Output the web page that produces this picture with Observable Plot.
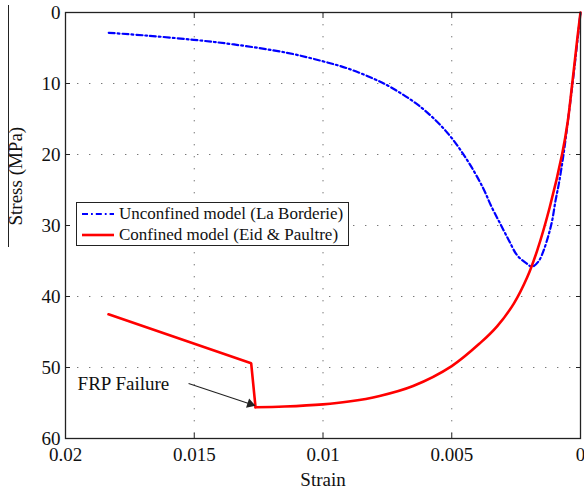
<!DOCTYPE html>
<html>
<head>
<meta charset="utf-8">
<script src="https://cdn.jsdelivr.net/npm/d3@7"></script>
<script src="https://cdn.jsdelivr.net/npm/@observablehq/plot@0.6"></script>
<style>
  html, body { margin: 0; padding: 0; background: #fff; }
  #wrap { position: relative; width: 584px; height: 489px; overflow: hidden; font-family: "Liberation Serif", "DejaVu Serif", serif; }
  #chart svg, #chart svg text { font-family: "Liberation Serif", "DejaVu Serif", serif !important; }
  #edge { position: absolute; left: 8px; top: 5px; width: 0; height: 242px; border-left: 1.2px solid #222; }
  #legend { position: absolute; left: 76px; top: 202px; width: 273px; height: 44px; border: 1.2px solid #222; background: #fff; box-sizing: border-box; font-size: 17px; color: #111; }
  #legend .row { position: absolute; left: 4px; height: 20px; display: flex; align-items: center; white-space: nowrap; }
  #legend svg { margin-right: 4px; }
</style>
</head>
<body>
<div id="wrap">
  <div id="edge"></div>
  <div id="chart"></div>
  <div id="legend"></div>
</div>
<script>
// Unconfined concrete (La Borderie model): strain, compressive stress (MPa)
const unconfinedStrain = [0.01832, 0.01689, 0.01502, 0.01346, 0.01139, 0.01003, 0.00900, 0.00803, 0.00738, 0.00621, 0.00518, 0.00440, 0.00380, 0.00345, 0.00311, 0.00278, 0.00246, 0.00207, 0.00188, 0.00162, 0.00143, 0.00123, 0.00110, 0.00097, 0.00084, 0.00066, 0.00048, 0.00031, 0.00015, 0];
const unconfinedStress = [2.86, 3.24, 3.85, 4.5, 5.68, 6.85, 7.93, 9.34, 10.5, 13.3, 16.9, 20.8, 24.6, 27.4, 29.8, 32.1, 34.2, 35.4, 35.8, 35.0, 33.5, 31.2, 29.3, 26.5, 24.1, 20.0, 15.0, 10.0, 5.0, 0];

// FRP-confined concrete (Eid & Paultre model); the first three points are the
// post-failure branch, the rest the confined curve
const confinedStrain = [0.01833, 0.01279, 0.01262, 0.0115, 0.0100, 0.0090, 0.0078, 0.0065, 0.0050, 0.00388, 0.00324, 0.00259, 0.00207, 0.00168, 0.00120, 0.00071, 0.00050, 0.00032, 0.00013, 0];
const confinedStress = [42.5, 49.4, 55.6, 55.5, 55.2, 54.8, 54.0, 52.6, 49.8, 46.5, 44.2, 41.0, 37.3, 33.5, 27.5, 19.9, 15.5, 10.0, 3.9, 0];
const failureIndex = 2;

const xTicks = [0.02, 0.015, 0.01, 0.005, 0];
const xTickLabels = ["0.02", "0.015", "0.01", "0.005", "0"];
const yTicks = [0, 10, 20, 30, 40, 50, 60];

// FRP failure annotation: label anchor and arrow end points
const noteText = "FRP Failure";
const noteAt = [0.01953, 52.25];
const arrowFrom = [0.01522, 52.25];
const arrowTo = [0.01266, 55.35];

const seriesNames = ["Unconfined model (La Borderie)", "Confined model (Eid & Paultre)"];
const seriesColors = ["#0000ff", "#ff0000"];

const unconfined = unconfinedStrain.map((s, i) => ({strain: s, stress: unconfinedStress[i]}));
const confined = confinedStrain.map((s, i) => ({strain: s, stress: confinedStress[i]}));
const confinedLinear = confined.slice(0, failureIndex + 1);
const confinedCurve = confined.slice(failureIndex);

// arrow head sits just short of the tip
const t = 0.935;
const headAt = {x: arrowFrom[0] + (arrowTo[0] - arrowFrom[0]) * t, y: arrowFrom[1] + (arrowTo[1] - arrowFrom[1]) * t};

const fontFamily = '"Liberation Serif", "DejaVu Serif", serif';
const grid = {stroke: "#777", strokeOpacity: 1, strokeWidth: 1, strokeDasharray: "1.4,10.6"};
const noText = () => "";
const fs = 19;

const chart = Plot.plot({
  width: 584,
  height: 489,
  marginLeft: 65,
  marginRight: 4,
  marginTop: 12,
  marginBottom: 51,
  style: {fontFamily, background: "transparent", overflow: "visible"},
  x: {domain: [0.02, 0], ticks: xTicks},
  y: {domain: [0, 60], reverse: true, ticks: yTicks},
  marks: [
    Plot.gridX(xTicks, {...grid}),
    Plot.gridY(yTicks, {...grid}),
    // tick labels
    Plot.axisX(xTicks, {tickSize: 0, tickPadding: 9, fontSize: fs, fontFamily, fill: "#111", label: null,
      tickFormat: (d) => xTickLabels[xTicks.indexOf(d)]}),
    Plot.axisY(yTicks, {tickSize: 0, tickPadding: 5, fontSize: fs, fontFamily, fill: "#111", label: null}),
    // inward ticks on all four sides
    Plot.axisX(xTicks, {anchor: "bottom", tickSize: -5, stroke: "#222", tickFormat: noText, label: null}),
    Plot.axisX(xTicks, {anchor: "top", tickSize: -5, stroke: "#222", tickFormat: noText, label: null}),
    Plot.axisY(yTicks, {anchor: "left", tickSize: -5, stroke: "#222", tickFormat: noText, label: null}),
    Plot.axisY(yTicks, {anchor: "right", tickSize: -5, stroke: "#222", tickFormat: noText, label: null}),
    Plot.line(unconfined, {x: "strain", y: "stress", curve: "catmull-rom", stroke: seriesColors[0], strokeWidth: 2.2, strokeDasharray: "6,3,1.8,3"}),
    Plot.line(confinedLinear, {x: "strain", y: "stress", stroke: seriesColors[1], strokeWidth: 2.6, strokeLinejoin: "miter"}),
    Plot.line(confinedCurve, {x: "strain", y: "stress", curve: "catmull-rom", stroke: seriesColors[1], strokeWidth: 2.6}),
    Plot.link([{x1: arrowFrom[0], y1: arrowFrom[1], x2: headAt.x, y2: headAt.y}],
      {x1: "x1", y1: "y1", x2: "x2", y2: "y2", stroke: "#222", strokeWidth: 1.1}),
    Plot.dot([headAt], {x: "x", y: "y", symbol: "triangle", r: 3.6, fill: "#222", stroke: "none", rotate: 108.4}),
    Plot.text([noteText], {x: noteAt[0], y: noteAt[1], text: (d) => d, textAnchor: "start", fontSize: fs, fontFamily, fill: "#111"}),
    Plot.frame({stroke: "#222", strokeWidth: 1.3}),
    Plot.text(["Strain"], {frameAnchor: "bottom", dy: 47, text: (d) => d, fontSize: fs, fontFamily, fill: "#111"}),
    Plot.text(["Stress (MPa)"], {frameAnchor: "left", dx: -50, rotate: -90, text: (d) => d, fontSize: fs, fontFamily, fill: "#111"})
  ]
});
document.getElementById("chart").appendChild(chart);

// Legend inside the axes box
const legend = document.getElementById("legend");
seriesNames.forEach((name, i) => {
  const row = document.createElement("div");
  row.className = "row";
  row.style.top = (i === 0 ? 1 : 22) + "px";
  const dash = i === 0 ? "6,3,1.8,3" : "none";
  row.innerHTML = `<svg width="34" height="6"><line x1="1" y1="3" x2="33" y2="3" stroke="${seriesColors[i]}" stroke-width="${i === 0 ? 2.2 : 2.6}" stroke-dasharray="${dash}"/></svg><span>${name.replace("&", "&amp;")}</span>`;
  legend.appendChild(row);
});
</script>
</body>
</html>
